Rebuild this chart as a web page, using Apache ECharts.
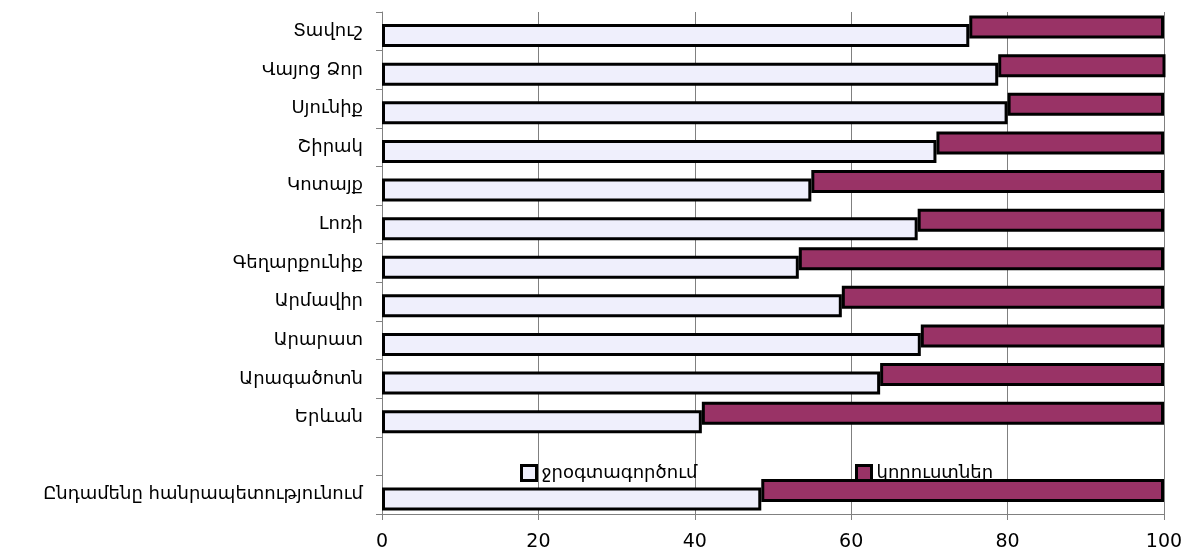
<!DOCTYPE html>
<html>
<head>
<meta charset="utf-8">
<script src="https://cdn.jsdelivr.net/npm/echarts@6/dist/echarts.min.js"></script>
<style>
html,body{margin:0;padding:0;background:#fff;}
#c{width:1190px;height:556px;}
</style>
</head>
<body>
<div id="c"></div>
<script>
// categories listed bottom to top (as drawn on the category axis)
var categories = ['Ընդամենը հանրապետությունում', '', 'Երևան', 'Արագածոտն', 'Արարատ', 'Արմավիր', 'Գեղարքունիք', 'Լոռի', 'Կոտայք', 'Շիրակ', 'Սյունիք', 'Վայոց Ձոր', 'Տավուշ'];
var useValues  = [48.5, null, 40.9, 63.7, 68.9, 58.8, 53.3, 68.5, 54.9, 70.9, 80.0, 78.8, 75.1];
var lossValues = [51.5, null, 59.1, 36.3, 31.1, 41.2, 46.7, 31.5, 45.1, 29.1, 20.0, 21.6, 24.9];
var xTicks = [0, 20, 40, 60, 80, 100];
var seriesNames = ['ջրօգտագործում', 'կորուստներ'];

var chart = echarts.init(document.getElementById('c'), null, {renderer: 'canvas'});
var FONT = 'DejaVu Sans';
var BW = 23, GAP = '-63%';
chart.setOption({
  animation: false,
  backgroundColor: '#fff',
  grid: {left: 382, right: 26, top: 12, bottom: 42, containLabel: false},
  xAxis: {
    type: 'value', min: xTicks[0], max: xTicks[xTicks.length - 1], interval: 20,
    axisLine: {show: true, lineStyle: {color: '#808080', width: 1}},
    axisTick: {show: true, length: 6, lineStyle: {color: '#808080'}},
    axisLabel: {color: '#000', fontSize: 19, fontFamily: FONT, margin: 19},
    splitLine: {show: true, lineStyle: {color: '#808080', width: 1}}
  },
  yAxis: {
    type: 'category', data: categories,
    axisLine: {show: true, lineStyle: {color: '#808080', width: 1}},
    axisTick: {show: true, length: 6, inside: false, lineStyle: {color: '#808080'}},
    axisLabel: {color: '#000', fontSize: 18, fontFamily: FONT, margin: 19, padding: [5, 0, 0, 0]},
    splitLine: {show: false}
  },
  legend: [
    {data: [seriesNames[0]], left: 515, top: 459, z: 1, itemWidth: 15, itemHeight: 15, icon: 'rect',
     textStyle: {fontSize: 18, fontFamily: FONT, color: '#000'},
     itemStyle: {borderColor: '#000', borderWidth: 3}},
    {data: [seriesNames[1]], left: 850, top: 459, z: 1, itemWidth: 15, itemHeight: 15, icon: 'rect',
     textStyle: {fontSize: 18, fontFamily: FONT, color: '#000'},
     itemStyle: {borderColor: '#000', borderWidth: 3}}
  ],
  series: [
    {name: '_base', type: 'bar', stack: 'loss', data: useValues, silent: true, barWidth: BW, barGap: GAP,
     itemStyle: {color: 'rgba(0,0,0,0)', borderWidth: 0}},
    {name: seriesNames[1], type: 'bar', stack: 'loss', data: lossValues, barWidth: BW, barGap: GAP,
     itemStyle: {color: '#993366', borderColor: '#000', borderWidth: 3}},
    {name: seriesNames[0], type: 'bar', stack: 'use', data: useValues, barWidth: BW, barGap: GAP,
     itemStyle: {color: '#EFEFFC', borderColor: '#000', borderWidth: 3}}
  ]
});
</script>
</body>
</html>
